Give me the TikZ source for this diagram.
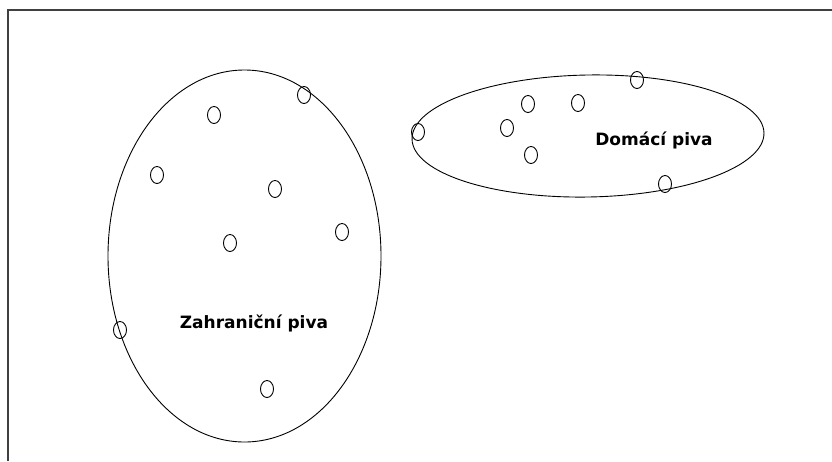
\documentclass[tikz,border=0pt]{standalone}
\usepackage{fontspec}
\setmainfont{DejaVu Sans}
\usetikzlibrary{shapes.geometric}
\begin{document}
\begin{tikzpicture}[x=1pt,y=-1pt,
  set/.style={draw=black,line width=0.9pt},
  elem/.style={draw=black,line width=0.9pt,ellipse,minimum width=13pt,minimum height=17pt,inner sep=0pt},
  lbl/.style={font=\bfseries\fontsize{17}{19}\selectfont,inner sep=0pt}]
\useasboundingbox (0,0) rectangle (832,461);
\fill[white] (0,0) rectangle (832,461);
\coordinate (tl) at (8,10);
\coordinate (tr) at (832,10);
\coordinate (bl) at (8,461);
\draw[line width=1.6pt,black!75] (tr) -- (tl) -- (bl);
% sets
\draw[set] (244.5,256) ellipse [x radius=136.5, y radius=186];
\draw[set,rotate around={1:(588,136)}] (588,136) ellipse [x radius=176, y radius=61];
% labels
\node[lbl] (za) at (254,323) {Zahraniční piva};
\node[lbl] (do) at (654,140) {Domácí piva};
% elements
\foreach \n/\x/\y in {a1/214/115,a2/304/95,a3/157/175,a4/275/189,a5/230/243,a6/342/232,a7/120/330,a8/267/389,
  b1/418/132,b2/528/104,b3/578/103,b4/637/80,b5/507/128,b6/531/155,b7/665/184}
  \node[elem] (\n) at (\x,\y) {};
\end{tikzpicture}
\end{document}
